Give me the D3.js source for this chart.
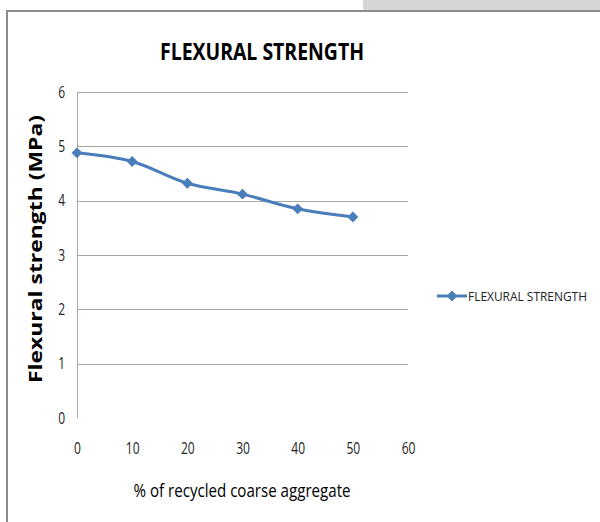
<!DOCTYPE html>
<html>
<head>
<meta charset="utf-8">
<script src="https://cdn.jsdelivr.net/npm/d3@7"></script>
<style>
  html, body { margin: 0; padding: 0; background: #fff; }
  svg { display: block; }
</style>
</head>
<body>
<svg id="chart" width="600" height="522"></svg>
<script>
// Flexural strength vs. recycled coarse aggregate content
const seriesName = "FLEXURAL STRENGTH";
const recycledPct = [0, 10, 20, 30, 40, 50];
const flexuralStrength = [4.88, 4.72, 4.32, 4.12, 3.85, 3.70];
const xTicks = [0, 10, 20, 30, 40, 50, 60];
const yTicks = [0, 1, 2, 3, 4, 5, 6];

const svg = d3.select("#chart");
const lineColor = "#4a7ebb";
const font = "'Open Sans', sans-serif";
const tickSize = 16;
const squeeze = 0.75;

// frame around the chart
svg.append("rect").attr("x", 363).attr("y", 0).attr("width", 237).attr("height", 10).attr("fill", "#d6d6d6");
svg.append("line").attr("x1", 7).attr("x2", 600).attr("y1", 11).attr("y2", 11)
  .attr("stroke", "#8c8c8c").attr("stroke-width", 2);
svg.append("line").attr("x1", 7).attr("x2", 7).attr("y1", 10).attr("y2", 522)
  .attr("stroke", "#8c8c8c").attr("stroke-width", 2);

const x = d3.scaleLinear().domain([0, 60]).range([77, 408]);
const y = d3.scaleLinear().domain([0, 6]).range([418, 92]);

// horizontal gridlines (none at zero)
svg.append("g").selectAll("line").data(yTicks.filter(d => d > 0)).join("line")
  .attr("x1", x(0)).attr("x2", x(60))
  .attr("y1", d => Math.round(y(d)) + 0.5).attr("y2", d => Math.round(y(d)) + 0.5)
  .attr("stroke", "#a6a6a6").attr("stroke-width", 1);

// vertical axis line
svg.append("line").attr("x1", x(0) + 0.5).attr("x2", x(0) + 0.5).attr("y1", y(6)).attr("y2", y(0))
  .attr("stroke", "#a6a6a6").attr("stroke-width", 1);

// tick labels (narrowed horizontally)
const yAxis = d3.axisLeft(y).tickValues(yTicks).tickFormat(d3.format("d")).tickSize(0).tickPadding(12);
const gy = svg.append("g").attr("transform", `translate(${x(0)},0)`).call(yAxis);
gy.select(".domain").remove();
gy.selectAll("text").attr("font-family", font).attr("font-size", tickSize).attr("fill", "#222")
  .attr("transform", `scale(${squeeze},1)`).attr("x", -12 / squeeze);

const xAxis = d3.axisBottom(x).tickValues(xTicks).tickFormat(d3.format("d")).tickSize(0).tickPadding(0);
const gx = svg.append("g").attr("transform", `translate(0,${y(0) + 25})`).call(xAxis);
gx.select(".domain").remove();
gx.selectAll(".tick text").attr("font-family", font).attr("font-size", tickSize).attr("fill", "#222")
  .attr("transform", `scale(${squeeze},1)`);

// series line
const line = d3.line().x((d, i) => x(recycledPct[i])).y(d => y(d)).curve(d3.curveCatmullRom.alpha(0.5));
svg.append("path").datum(flexuralStrength).attr("d", line)
  .attr("fill", "none").attr("stroke", lineColor).attr("stroke-width", 3).attr("stroke-linejoin", "round");

const diamond = d3.symbol().type(d3.symbolDiamond2).size(75);
svg.append("g").selectAll("path").data(flexuralStrength).join("path")
  .attr("d", diamond)
  .attr("transform", (d, i) => `translate(${x(recycledPct[i])},${y(d)})`)
  .attr("fill", lineColor);

// title
svg.append("text").attr("x", 262).attr("y", 60).attr("text-anchor", "middle")
  .attr("font-family", font).attr("font-weight", "bold").attr("font-size", 24)
  .attr("textLength", 204).attr("lengthAdjust", "spacingAndGlyphs")
  .attr("fill", "#000").text(seriesName);

// axis titles
svg.append("text").attr("transform", "translate(42,249) rotate(-90)").attr("text-anchor", "middle")
  .attr("font-family", font).attr("font-weight", "bold").attr("font-size", 17)
  .attr("textLength", 268).attr("lengthAdjust", "spacingAndGlyphs")
  .attr("fill", "#000").text("Flexural strength (MPa)");
svg.append("text").attr("x", 242).attr("y", 497).attr("text-anchor", "middle")
  .attr("font-family", font).attr("font-size", 17.5)
  .attr("textLength", 217).attr("lengthAdjust", "spacingAndGlyphs")
  .attr("fill", "#000").text("% of recycled coarse aggregate");

// legend
const lg = svg.append("g").attr("transform", "translate(437,296)");
lg.append("line").attr("x1", 0).attr("x2", 30).attr("y1", 0).attr("y2", 0)
  .attr("stroke", lineColor).attr("stroke-width", 3);
lg.append("path").attr("d", diamond).attr("transform", "translate(15,0)").attr("fill", lineColor);
lg.append("text").attr("x", 31).attr("y", 5).attr("font-family", font).attr("font-size", 12.5)
  .attr("textLength", 119).attr("lengthAdjust", "spacingAndGlyphs")
  .attr("fill", "#222").text(seriesName);
</script>
</body>
</html>
